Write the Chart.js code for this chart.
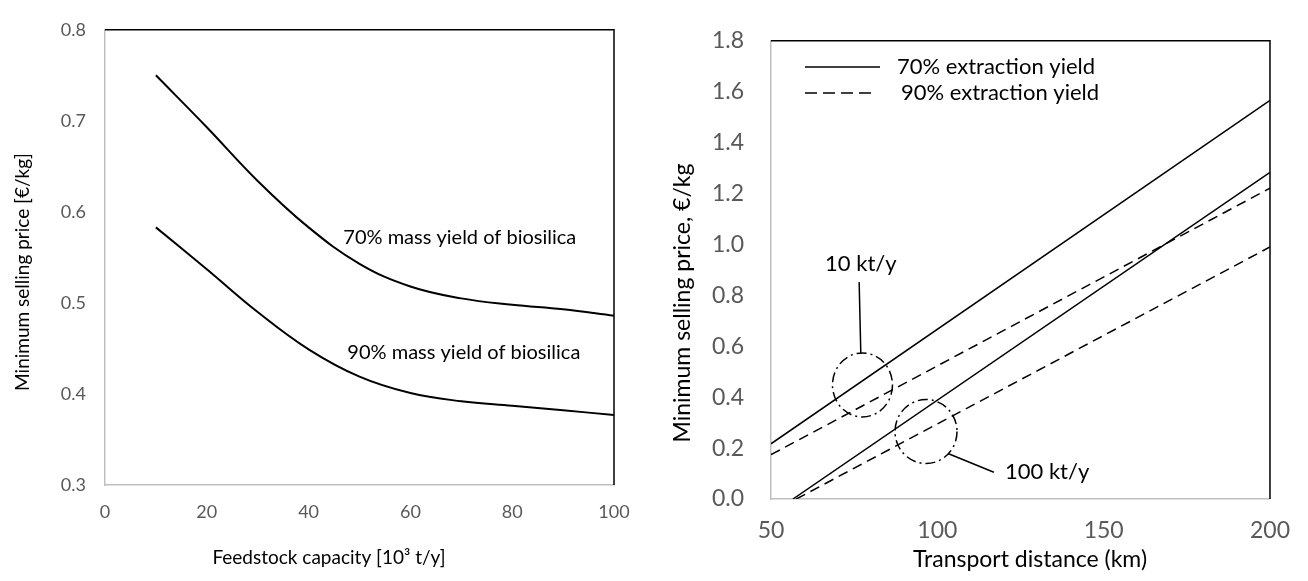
<!DOCTYPE html>
<html>
<head>
<meta charset="utf-8">
<script src="https://cdn.jsdelivr.net/npm/chart.js@4.4.1/dist/chart.umd.min.js"></script>
<style>
  body { margin: 0; background: #fff; }
  canvas { position: absolute; top: 0; }
  #left { left: 0; }
  #right { left: 654px; }
</style>
</head>
<body>
<canvas id="left" width="654" height="581"></canvas>
<canvas id="right" width="654" height="581"></canvas>
<script>
// left panel: minimum selling price vs feedstock capacity
const capacity = [10, 20, 30, 40, 50, 60, 70, 80, 90, 100];
const msp70 = [0.750, 0.693, 0.634, 0.583, 0.543, 0.518, 0.505, 0.498, 0.493, 0.486];
const msp90 = [0.583, 0.537, 0.490, 0.449, 0.419, 0.401, 0.392, 0.387, 0.382, 0.377];
const capacityTicks = [0, 20, 40, 60, 80, 100];
const leftPriceTicks = [0.3, 0.4, 0.5, 0.6, 0.7, 0.8];

// right panel: minimum selling price vs transport distance
const dist10kt = [50, 200];
const msp10kt70 = [0.217, 1.566];
const msp10kt90 = [0.174, 1.221];
const dist100kt70 = [56.6, 200];
const msp100kt70 = [0, 1.283];
const dist100kt90 = [57.6, 200];
const msp100kt90 = [0, 0.99];
const distanceTicks = [50, 100, 150, 200];
const rightPriceTicks = [0, 0.2, 0.4, 0.6, 0.8, 1.0, 1.2, 1.4, 1.6, 1.8];

const FONT = 'Lato';
const TICK_COLOR = '#595959';
const AXIS_COLOR = '#bfbfbf';

const pts = (xs, ys) => xs.map((x, i) => ({ x, y: ys[i] }));
const fixTicks = list => s => { s.ticks = list.map(v => ({ value: v })); };

// black top + right edge of the plot area
const frame = {
  id: 'frame',
  afterDraw(chart) {
    const { ctx, chartArea: a } = chart;
    ctx.save();
    ctx.strokeStyle = '#000';
    ctx.lineWidth = 1.5;
    ctx.beginPath();
    ctx.moveTo(a.left, a.top);
    ctx.lineTo(a.right, a.top);
    ctx.lineTo(a.right, a.bottom);
    ctx.stroke();
    ctx.restore();
  }
};

function text(ctx, str, x, y, font, align = 'center', rot = 0) {
  ctx.save();
  ctx.font = font;
  ctx.fillStyle = '#000';
  ctx.textAlign = align;
  ctx.textBaseline = 'middle';
  ctx.translate(x, y);
  ctx.rotate(rot);
  ctx.fillText(str, 0, 0);
  ctx.restore();
}

const leftLabels = {
  id: 'leftLabels',
  afterDraw(chart) {
    const { ctx, scales: { x, y } } = chart;
    text(ctx, '70% mass yield of biosilica', x.getPixelForValue(69.7), y.getPixelForValue(0.572), `20px ${FONT}`);
    text(ctx, '90% mass yield of biosilica', x.getPixelForValue(70.5), y.getPixelForValue(0.445), `20px ${FONT}`);
    text(ctx, 'Feedstock capacity [10³ t/y]', 329, 558, `19px ${FONT}`);
    text(ctx, 'Minimum selling price [€/kg]', 23, 272, `19px ${FONT}`, 'center', -Math.PI / 2);
  }
};

const rightLabels = {
  id: 'rightLabels',
  afterDraw(chart) {
    const { ctx, scales: { x, y } } = chart;
    ctx.save();
    ctx.strokeStyle = '#000';
    ctx.lineWidth = 1.5;
    // legend
    ctx.beginPath();
    ctx.moveTo(151, 67); ctx.lineTo(226, 67);
    ctx.stroke();
    ctx.setLineDash([12, 6]);
    ctx.beginPath();
    ctx.moveTo(151, 93); ctx.lineTo(220, 93);
    ctx.stroke();
    // circles around the line pairs
    ctx.setLineDash([10, 4, 2, 4]);
    ctx.beginPath();
    ctx.ellipse(x.getPixelForValue(77.5), y.getPixelForValue(0.448), 30, 32, 0, 0, Math.PI * 2);
    ctx.stroke();
    ctx.beginPath();
    ctx.ellipse(x.getPixelForValue(96.6), y.getPixelForValue(0.265), 31, 32, 0, 0, Math.PI * 2);
    ctx.stroke();
    // leader lines
    ctx.setLineDash([]);
    ctx.beginPath();
    ctx.moveTo(x.getPixelForValue(76.5), y.getPixelForValue(0.852));
    ctx.lineTo(x.getPixelForValue(77.0), y.getPixelForValue(0.571));
    ctx.moveTo(x.getPixelForValue(103.2), y.getPixelForValue(0.179));
    ctx.lineTo(x.getPixelForValue(117.0), y.getPixelForValue(0.105));
    ctx.stroke();
    ctx.restore();

    text(ctx, '70% extraction yield', 243, 67, `22px ${FONT}`, 'left');
    text(ctx, '90% extraction yield', 247, 93, `22px ${FONT}`, 'left');
    text(ctx, '10 kt/y', x.getPixelForValue(77.0), y.getPixelForValue(0.923), `22px ${FONT}`);
    text(ctx, '100 kt/y', x.getPixelForValue(133), y.getPixelForValue(0.106), `22px ${FONT}`);
    text(ctx, 'Transport distance (km)', 376, 560, `23px ${FONT}`);
    text(ctx, 'Minimum selling price, €/kg', 29, 303, `23px ${FONT}`, 'center', -Math.PI / 2);
  }
};

function line(data, width, dash, smooth) {
  return {
    data,
    borderColor: '#000',
    borderWidth: width,
    borderDash: dash || [],
    pointRadius: 0,
    fill: false,
    tension: smooth ? 0.4 : 0
  };
}

function axis(ticks, min, max, size, pad, fontSize, fmt, fitKey) {
  return {
    type: 'linear',
    min, max,
    afterBuildTicks: fixTicks(ticks),
    afterFit: s => { s[fitKey] = size; },
    grid: { display: false, drawTicks: false },
    border: { color: AXIS_COLOR, width: 1.5 },
    ticks: {
      padding: pad,
      color: TICK_COLOR,
      font: { family: FONT, size: fontSize },
      callback: fmt
    }
  };
}

const common = {
  responsive: false,
  animation: false,
  devicePixelRatio: 1,
  plugins: { legend: { display: false }, tooltip: { enabled: false } }
};

new Chart(document.getElementById('left'), {
  type: 'line',
  data: {
    datasets: [
      line(pts(capacity, msp70), 2, null, true),
      line(pts(capacity, msp90), 2, null, true)
    ]
  },
  options: {
    ...common,
    layout: { padding: { top: 27, right: 40, left: 0, bottom: 0 } },
    scales: {
      x: axis(capacityTicks, 0, 100, 96, 16, 18, v => String(v), 'height'),
      y: axis(leftPriceTicks, 0.3, 0.8, 105, 19, 18, v => v.toFixed(1), 'width')
    }
  },
  plugins: [frame, leftLabels]
});

new Chart(document.getElementById('right'), {
  type: 'line',
  data: {
    datasets: [
      line(pts(dist10kt, msp10kt70), 1.5),
      line(pts(dist10kt, msp10kt90), 1.5, [10, 6]),
      line(pts(dist100kt70, msp100kt70), 1.5),
      line(pts(dist100kt90, msp100kt90), 1.5, [10, 6])
    ]
  },
  options: {
    ...common,
    layout: { padding: { top: 35, right: 22, left: 0, bottom: 0 } },
    scales: {
      x: axis(distanceTicks, 50, 200, 82, 18, 23, v => String(v), 'height'),
      y: axis(rightPriceTicks, 0, 1.8, 117, 27, 23, v => v.toFixed(1), 'width')
    }
  },
  plugins: [frame, rightLabels]
});
</script>
</body>
</html>
